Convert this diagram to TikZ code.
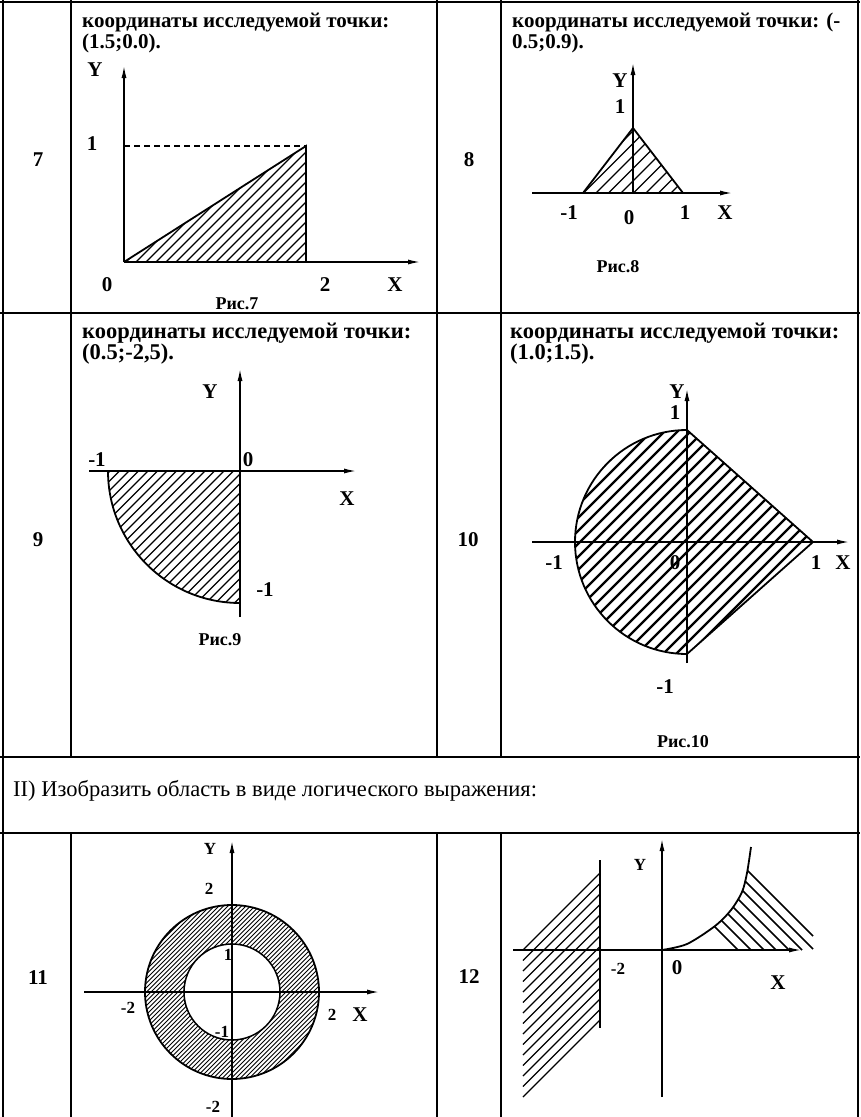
\documentclass[tikz,border=0pt]{standalone}
\usepackage{fontspec}
\setmainfont{Liberation Serif}
\usetikzlibrary{arrows.meta}
\begin{document}
\begin{tikzpicture}[x=1pt,y=-1pt,
  frame/.style={line width=2pt},
  axis/.style={line width=1.7pt,-{Latex[length=13pt,width=5pt]}},
  outline/.style={line width=1.8pt},
  hatchline/.style={line width=1.3pt},
  lbl/.style={font=\fontsize{21}{24}\selectfont\bfseries, inner sep=0pt},
  slbl/.style={font=\fontsize{17}{20}\selectfont\bfseries, inner sep=0pt},
  txt/.style={font=\fontsize{21}{24}\selectfont\bfseries, anchor=base west, inner sep=0pt},
  wtxt/.style={font=\fontsize{22.5}{24}\selectfont\bfseries, anchor=base west, inner sep=0pt},
  htxt/.style={font=\fontsize{22.5}{24}\selectfont, anchor=base west, inner sep=0pt},
  num/.style={font=\fontsize{21}{24}\selectfont\bfseries, inner sep=0pt},
  figcap/.style={font=\fontsize{18}{20}\selectfont\bfseries, inner sep=0pt}
]
\useasboundingbox (0,0) rectangle (860,1117);
\fill[white] (0,0) rectangle (860,1117);

% ---------- table ----------
\draw[frame] (0,2) -- (860,2);
\draw[frame] (0,313) -- (860,313);
\draw[frame] (0,757) -- (860,757);
\draw[frame] (0,833) -- (860,833);
\draw[frame] (3,0) -- (3,1117);
\draw[frame] (858,0) -- (858,1117);
\foreach \x in {71,437,501} {
  \draw[frame] (\x,0) -- (\x,757);
  \draw[frame] (\x,833) -- (\x,1117);
}

% ---------- texts ----------
\node[num] (n7) at (38,160) {7};
\node[num] (n8) at (469,160) {8};
\node[num] (n9) at (38,540) {9};
\node[num] (n10) at (468,540) {10};
\node[num] (n11) at (38,978) {11};
\node[num] (n12) at (469,977) {12};

\node[txt] (t7a) at (82,27) {координаты исследуемой точки:};
\node[txt] (t7b) at (82,48) {(1.5;0.0).};
\node[txt] (t8a) at (512,27) {координаты исследуемой точки: (-};
\node[txt] (t8b) at (512,48) {0.5;0.9).};
\node[wtxt] (t9a) at (82,338) {координаты исследуемой точки:};
\node[wtxt] (t9b) at (82,359) {(0.5;-2,5).};
\node[wtxt] (t10a) at (510,338) {координаты исследуемой точки:};
\node[wtxt] (t10b) at (510,359) {(1.0;1.5).};
\node[htxt] (hdr) at (13,796) {II) Изобразить область в виде логического выражения:};

% ---------- graph 7 ----------
\coordinate (o7) at (124,262);
\coordinate (y7) at (124,65);
\coordinate (x7) at (421,262);
\coordinate (p7) at (306,146);
\coordinate (q7) at (306,262);
\coordinate (d7) at (124,146);
\begin{scope}
  \clip (o7) -- (p7) -- (q7) -- cycle;
  \foreach \x in {126,136,...,316} \draw[hatchline] (\x,262) -- ++(150,-150);
\end{scope}
\draw[outline] (o7) -- (p7) -- (q7);
\draw[dash pattern=on 6pt off 4pt, line width=1.4pt] (d7) -- (p7);
\draw[axis] (o7) -- (y7);
\draw[axis] (o7) -- (x7);
\node[lbl] (l7y) at (95,70) {Y};
\node[lbl] (l7one) at (92,144) {1};
\node[lbl] (l7zero) at (107,285) {0};
\node[lbl] (l7two) at (325,285) {2};
\node[lbl] (l7x) at (395,285) {X};
\node[figcap] (c7) at (237,304) {Рис.7};

% ---------- graph 8 ----------
\coordinate (o8) at (633,193);
\coordinate (y8) at (633,62);
\coordinate (x8s) at (532,193);
\coordinate (x8) at (733,193);
\coordinate (a8) at (583,193);
\coordinate (b8) at (633,128);
\coordinate (c8) at (683,193);
\begin{scope}
  \clip (a8) -- (b8) -- (c8) -- cycle;
  \foreach \x in {571,583.5,...,695} \draw[hatchline] (\x,193) -- ++(90,-90);
\end{scope}
\draw[outline] (a8) -- (b8) -- (c8);
\draw[axis] (x8s) -- (x8);
\draw[axis] (o8) -- (y8);
\node[lbl] (l8y) at (620,81) {Y};
\node[lbl] (l8one) at (620,107) {1};
\node[lbl] (l8m) at (569,213) {-1};
\node[lbl] (l8zero) at (629,218) {0};
\node[lbl] (l8p) at (685,213) {1};
\node[lbl] (l8x) at (725,213) {X};
\node[figcap] (c8) at (618,267) {Рис.8};

% ---------- graph 9 ----------
\coordinate (o9) at (240,471);
\coordinate (y9s) at (240,617);
\coordinate (y9) at (240,368);
\coordinate (x9s) at (89,471);
\coordinate (x9) at (357,471);
\coordinate (l9) at (108,471);
\begin{scope}
  \clip (o9) -- (l9) arc[start angle=180,end angle=90,radius=132] -- cycle;
  \foreach \x in {110,119.5,...,380} \draw[hatchline] (\x,471) -- ++(-140,140);
\end{scope}
\draw[outline] (l9) arc[start angle=180,end angle=90,radius=132];
\draw[axis] (x9s) -- (x9);
\draw[axis] (y9s) -- (y9);
\node[lbl] (l9m) at (97,460) {-1};
\node[lbl] (l9zero) at (248,460) {0};
\node[lbl] (l9x) at (347,499) {X};
\node[lbl] (l9y) at (210,392) {Y};
\node[lbl] (l9mm) at (265,590) {-1};
\node[figcap] (c9) at (220,640) {Рис.9};

% ---------- graph 10 ----------
\coordinate (o10) at (687,542);
\coordinate (y10s) at (687,663);
\coordinate (y10) at (687,388);
\coordinate (x10s) at (532,542);
\coordinate (x10) at (850,542);
\coordinate (t10) at (687,430);
\coordinate (r10) at (813,542);
\begin{scope}
  \clip (t10) arc[start angle=270,end angle=90,radius=112] -- (r10) -- cycle;
  \foreach \x in {528,541,...,830} \draw[line width=2.3pt] (\x,542) ++(-150,150) -- ++(300,-300);
\end{scope}
\draw[outline] (t10) arc[start angle=270,end angle=90,radius=112] -- (r10) -- cycle;
\draw[axis] (x10s) -- (x10);
\draw[axis] (y10s) -- (y10);
\node[lbl] (l10y) at (677,392) {Y};
\node[lbl] (l10one) at (675,413) {1};
\node[lbl] (l10m) at (554,563) {-1};
\node[lbl] (l10zero) at (675,563) {0};
\node[lbl] (l10p) at (816,563) {1};
\node[lbl] (l10x) at (843,563) {X};
\node[lbl] (l10mm) at (665,687) {-1};
\node[figcap] (c10) at (683,742) {Рис.10};

% ---------- graph 11 ----------
\coordinate (o11) at (232,992);
\coordinate (y11s) at (232,1117);
\coordinate (y11) at (232,840);
\coordinate (x11s) at (84,992);
\coordinate (x11) at (380,992);
\begin{scope}
  \clip (o11) circle[radius=87];
  \foreach \x in {106,110.5,...,360} \draw[line width=1pt] (\x,992) ++(-100,100) -- ++(200,-200);
\end{scope}
\fill[white] (o11) circle[radius=48];
\draw[outline] (o11) circle[radius=87];
\draw[line width=1.5pt] (o11) circle[radius=48];
\draw[axis] (x11s) -- (x11);
\draw[axis] (y11s) -- (y11);
\node[slbl] (l11y) at (210,849) {Y};
\node[slbl] (l11two) at (209,889) {2};
\node[slbl] (l11one) at (228,955) {1};
\node[slbl] (l11m2) at (128,1008) {-2};
\node[slbl] (l11p2) at (332,1015) {2};
\node[lbl] (l11x) at (360,1015) {X};
\node[slbl] (l11m1) at (222,1032) {-1};
\node[slbl] (l11mm) at (213,1107) {-2};

% ---------- graph 12 ----------
\coordinate (o12) at (662,950);
\coordinate (y12s) at (662,1097);
\coordinate (y12) at (662,838);
\coordinate (x12s) at (513,950);
\coordinate (x12) at (802,950);
\coordinate (v12a) at (600,860);
\coordinate (v12b) at (600,1028);
\foreach \y in {950,960.5,...,1099} \draw[hatchline] (523,\y) -- ++(77,-77);
\foreach \a/\b/\c/\d in {714.6/926.6/738/950, 721/920/751/950, 727.5/913.5/764/950,
  732.9/906.9/776/950, 737.8/898.8/789/950, 742.4/890.4/802/950,
  744.9/880.9/813/949, 747.4/870.4/813/936}
  \draw[line width=1.6pt] (\a,\b) -- (\c,\d);
\draw[outline] plot[smooth] coordinates {(662,950) (687,944) (715,926) (731,910) (742,892) (747,873) (751,847)};
\draw[outline] (v12a) -- (v12b);
\draw[axis] (x12s) -- (x12);
\draw[axis] (y12s) -- (y12);
\node[slbl] (l12y) at (640,865) {Y};
\node[slbl] (l12m2) at (618,969) {-2};
\node[lbl] (l12zero) at (677,968) {0};
\node[lbl] (l12x) at (778,983) {X};
\end{tikzpicture}
\end{document}
